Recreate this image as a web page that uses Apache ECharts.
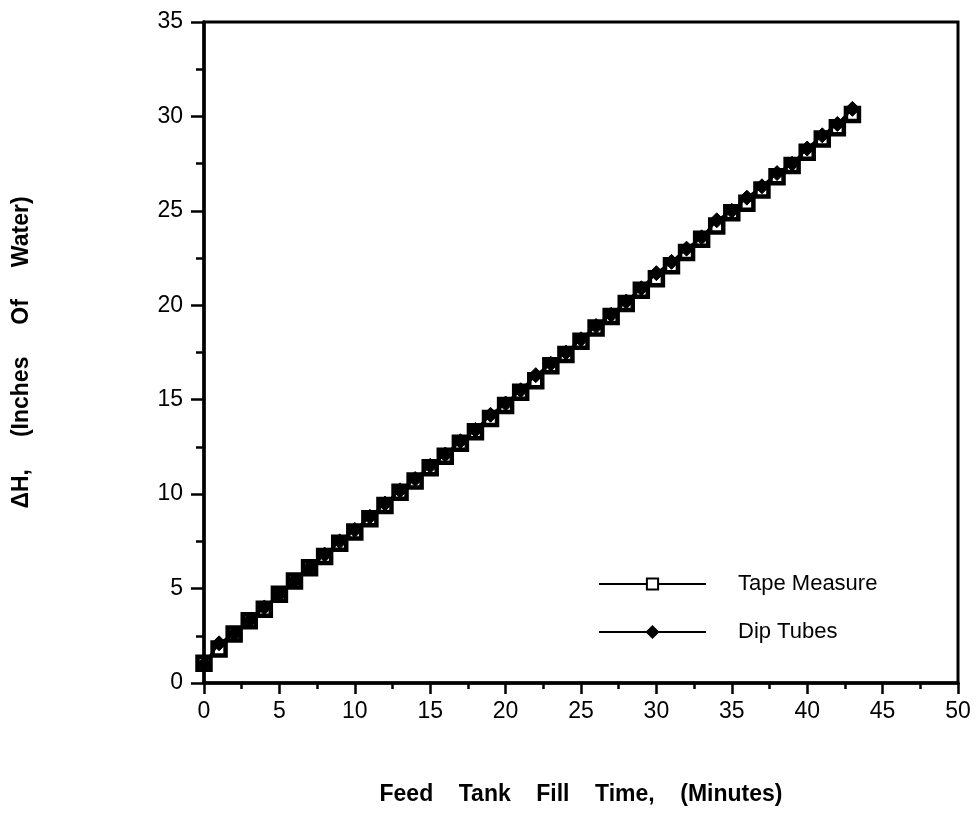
<!DOCTYPE html>
<html>
<head>
<meta charset="utf-8">
<script src="https://cdn.jsdelivr.net/npm/echarts@6/dist/echarts.min.js"></script>
<style>
  html, body { margin: 0; padding: 0; background: #fff; }
  #chart { width: 977px; height: 814px; }
</style>
</head>
<body>
<div id="chart"></div>
<script>
// fill time, minutes
const minutes = [0, 1, 2, 3, 4, 5, 6, 7, 8, 9, 10, 11, 12, 13, 14, 15, 16, 17, 18, 19, 20, 21,
  22, 23, 24, 25, 26, 27, 28, 29, 30, 31, 32, 33, 34, 35, 36, 37, 38, 39, 40, 41, 42, 43];

// delta H, inches of water
const tapeMeasure = [1.05, 1.8, 2.6, 3.3, 3.9, 4.7, 5.4, 6.1, 6.7, 7.4, 8.0, 8.7, 9.4, 10.1, 10.7,
  11.4, 12.0, 12.7, 13.3, 14.0, 14.7, 15.4, 16.0, 16.8, 17.4, 18.1, 18.8, 19.4, 20.1, 20.8,
  21.4, 22.1, 22.8, 23.5, 24.2, 24.9, 25.4, 26.1, 26.8, 27.4, 28.1, 28.8, 29.4, 30.1];
const dipTubes = [1.0, 2.1, 2.6, 3.3, 4.0, 4.7, 5.4, 6.1, 6.8, 7.5, 8.1, 8.8, 9.5, 10.2, 10.8,
  11.5, 12.1, 12.8, 13.4, 14.2, 14.8, 15.5, 16.3, 16.9, 17.5, 18.2, 18.9, 19.5, 20.2, 20.9,
  21.7, 22.3, 23.0, 23.6, 24.5, 25.0, 25.7, 26.3, 27.0, 27.5, 28.3, 29.0, 29.6, 30.4];

const seriesNames = ["Tape Measure", "Dip Tubes"];

const font = "Liberation Sans, Arial, Helvetica, sans-serif";

const chart = echarts.init(document.getElementById("chart"));

chart.setOption({
  backgroundColor: "#fff",
  animation: false,
  grid: {
    left: 204, right: 19, top: 22, bottom: 131,
    show: true, borderColor: "#000", borderWidth: 3
  },
  legend: {
    orient: "vertical",
    left: 593, top: 568,
    itemWidth: 107, itemHeight: 14, itemGap: 26,
    textStyle: { fontFamily: font, fontSize: 22, lineHeight: 14, color: "#000", padding: [0, 0, 0, 27] },
    data: seriesNames
  },
  xAxis: {
    type: "value",
    min: 0, max: 50, interval: 5,
    name: "Feed    Tank    Fill    Time,    (Minutes)",
    nameLocation: "middle", nameGap: 100,
    nameTextStyle: { fontFamily: font, fontSize: 23, fontWeight: "bold", color: "#000" },
    axisLine: { onZero: false, lineStyle: { color: "#000", width: 3.5 } },
    axisTick: { length: 11, lineStyle: { color: "#000", width: 2.5 } },
    minorTick: { show: true, splitNumber: 2, length: 6, lineStyle: { color: "#000", width: 2.5 } },
    splitLine: { show: false },
    axisLabel: { fontFamily: font, fontSize: 23, color: "#000", margin: 17 }
  },
  yAxis: {
    type: "value",
    min: 0, max: 35, interval: 5,
    name: "ΔH,     (Inches     Of     Water)",
    nameLocation: "middle", nameGap: 171, nameRotate: 90,
    nameTextStyle: { fontFamily: font, fontSize: 23, fontWeight: "bold", color: "#000" },
    axisLine: { onZero: false, lineStyle: { color: "#000", width: 3.5 } },
    axisTick: { length: 13, lineStyle: { color: "#000", width: 2.5 } },
    minorTick: { show: true, splitNumber: 2, length: 8, lineStyle: { color: "#000", width: 2.5 } },
    splitLine: { show: false },
    axisLabel: { fontFamily: font, fontSize: 23, color: "#000", margin: 21 }
  },
  series: [
    {
      name: seriesNames[0],
      type: "line",
      data: minutes.map((m, i) => [m, tapeMeasure[i]]),
      symbol: "rect", symbolSize: 13,
      lineStyle: { color: "#000", width: 2.5 },
      itemStyle: { color: "#fff", borderColor: "#000", borderWidth: 4.5 },
      z: 2
    },
    {
      name: seriesNames[1],
      type: "line",
      data: minutes.map((m, i) => [m, dipTubes[i]]),
      symbol: "diamond", symbolSize: 15,
      lineStyle: { color: "#000", width: 2.5 },
      itemStyle: { color: "#000", borderColor: "#000", borderWidth: 1 },
      z: 3
    }
  ]
});
</script>
</body>
</html>
